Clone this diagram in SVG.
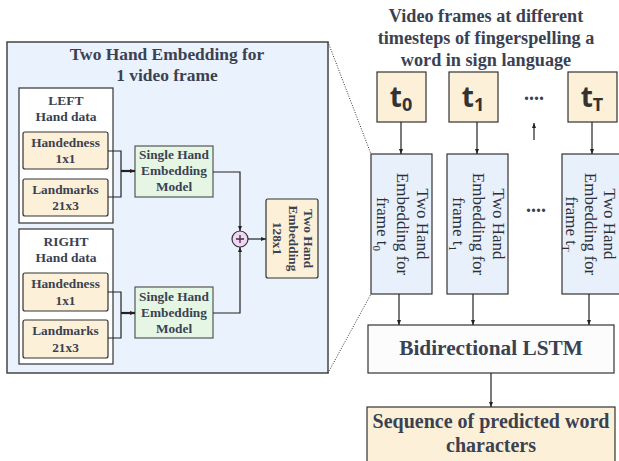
<svg xmlns="http://www.w3.org/2000/svg" width="619" height="461" viewBox="0 0 619 461">
<defs>
<marker id="ah" viewBox="0 0 10 10" refX="10" refY="5" markerWidth="5" markerHeight="5" orient="auto" markerUnits="userSpaceOnUse"><path d="M0,1 L10,5 L0,9 z" fill="#222"/></marker>
<style>
.t{font-family:"Liberation Serif","Times New Roman",serif;font-weight:bold;fill:#3a4252;text-anchor:middle}
.r{font-family:"Liberation Serif","Times New Roman",serif;fill:#2a2f38;text-anchor:middle;font-size:17px}
.s{font-family:"Open Sans","Noto Sans",sans-serif;font-weight:bold;fill:#333;text-anchor:middle;font-size:28px}
.cream{fill:#fdf0d8;stroke:#333;stroke-width:1.2}
.green{fill:#e5f7e4;stroke:#555;stroke-width:1.2}
.blue{fill:#e8f0fc;stroke:#333;stroke-width:1.2}
.ln{fill:none;stroke:#222;stroke-width:1.2}
.dot{fill:none;stroke:#333;stroke-width:1;stroke-dasharray:1 1.5}
</style>
</defs>
<g id="panel">
<rect x="7" y="42" width="321" height="331" fill="#eaf2fd" stroke="#444" stroke-width="1.5"/>
<text class="t" x="167" y="60" font-size="17.4">Two Hand Embedding for</text>
<text class="t" x="167" y="81" font-size="17.4">1 video frame</text>
</g>
<g id="left-hand">
<rect x="19" y="88" width="94" height="135" fill="#fff" stroke="#333" stroke-width="1.2"/>
<text class="t" x="66" y="105" font-size="13.5">LEFT</text>
<text class="t" x="66" y="121" font-size="13.5">Hand data</text>
</g>
<g id="left-handedness">
<rect class="cream" x="23" y="132" width="85" height="37" rx="2"/>
<text class="t" x="65.5" y="147" font-size="13.3">Handedness</text>
<text class="t" x="65.5" y="163" font-size="13.3">1x1</text>
</g>
<g id="left-landmarks">
<rect class="cream" x="23" y="179" width="85" height="37" rx="2"/>
<text class="t" x="65.5" y="194" font-size="13.3">Landmarks</text>
<text class="t" x="65.5" y="210" font-size="13.3">21x3</text>
</g>
<g id="left-model">
<rect class="green" x="135" y="146" width="78" height="51"/>
<text class="t" x="174" y="159" font-size="13.3">Single Hand</text>
<text class="t" x="174" y="175" font-size="13.3">Embedding</text>
<text class="t" x="174" y="191" font-size="13.3">Model</text>
</g>
<g id="right-hand">
<rect x="19" y="229" width="94" height="135" fill="#fff" stroke="#333" stroke-width="1.2"/>
<text class="t" x="66" y="246" font-size="13.5">RIGHT</text>
<text class="t" x="66" y="262" font-size="13.5">Hand data</text>
</g>
<g id="right-handedness">
<rect class="cream" x="23" y="273" width="85" height="38" rx="2"/>
<text class="t" x="65.5" y="288" font-size="13.3">Handedness</text>
<text class="t" x="65.5" y="305" font-size="13.3">1x1</text>
</g>
<g id="right-landmarks">
<rect class="cream" x="23" y="320" width="85" height="38" rx="2"/>
<text class="t" x="65.5" y="335" font-size="13.3">Landmarks</text>
<text class="t" x="65.5" y="352" font-size="13.3">21x3</text>
</g>
<g id="right-model">
<rect class="green" x="135" y="287" width="78" height="51"/>
<text class="t" x="174" y="301" font-size="13.3">Single Hand</text>
<text class="t" x="174" y="317" font-size="13.3">Embedding</text>
<text class="t" x="174" y="333" font-size="13.3">Model</text>
</g>
<g id="plus">
<circle cx="240" cy="239" r="8" fill="#f2d5f6" stroke="#333" stroke-width="1.2"/>
<path d="M236,239 H244 M240,235 V243" stroke="#333" stroke-width="1.3"/>
</g>
<g id="two-hand-out">
<rect class="cream" x="266" y="199" width="52" height="79" rx="2"/>
<g transform="translate(292,238.5) rotate(90)">
<text class="t" x="0" y="-11.5" font-size="13.3">Two Hand</text>
<text class="t" x="0" y="3.5" font-size="13.3">Embedding</text>
<text class="t" x="0" y="19.5" font-size="13.3">128x1</text>
</g>
</g>
<g id="video-title">
<text class="t" x="486" y="22" font-size="18.2">Video frames at different</text>
<text class="t" x="486" y="44" font-size="18.2">timesteps of fingerspelling a</text>
<text class="t" x="486" y="66" font-size="18.2">word in sign language</text>
</g>
<g id="t0">
<rect class="cream" x="377" y="72" width="49" height="50"/>
<text class="s" x="401" y="107">t<tspan font-size="18" dy="4">0</tspan></text>
</g>
<g id="t1">
<rect class="cream" x="449" y="72" width="49" height="50"/>
<text class="s" x="473" y="107">t<tspan font-size="18" dy="4">1</tspan></text>
</g>
<g id="tT">
<rect class="cream" x="568" y="72" width="49" height="50"/>
<text class="s" x="592" y="107">t<tspan font-size="18" dy="4">T</tspan></text>
</g>
<g id="dots-top"><text class="t" x="534" y="100" font-size="20" fill="#333">....</text></g>
<g id="frame0">
<rect class="blue" x="371" y="154" width="61" height="140"/>
<g transform="translate(401.5,224) rotate(90)">
<text class="r" x="0" y="-15">Two Hand</text>
<text class="r" x="0" y="5">Embedding for</text>
<text class="r" x="0" y="25">frame t<tspan font-size="11" dy="4">0</tspan></text>
</g>
</g>
<g id="frame1">
<rect class="blue" x="447" y="154" width="61" height="140"/>
<g transform="translate(477.5,224) rotate(90)">
<text class="r" x="0" y="-15">Two Hand</text>
<text class="r" x="0" y="5">Embedding for</text>
<text class="r" x="0" y="25">frame t<tspan font-size="11" dy="4">1</tspan></text>
</g>
</g>
<g id="frameT">
<rect class="blue" x="562" y="154" width="61" height="140"/>
<g transform="translate(590,224) rotate(90)">
<text class="r" x="0" y="-14">Two Hand</text>
<text class="r" x="0" y="5">Embedding for</text>
<text class="r" x="0" y="24">frame t<tspan font-size="11" dy="4">T</tspan></text>
</g>
</g>
<g id="dots-mid"><text class="t" x="536" y="212" font-size="20" fill="#333">....</text></g>
<g id="lstm">
<rect x="368" y="325" width="246" height="48" fill="#fbfcfb" stroke="#333" stroke-width="1.2"/>
<text class="t" x="491" y="355" font-size="21.3">Bidirectional LSTM</text>
</g>
<g id="sequence">
<rect class="cream" x="367" y="407" width="248" height="60"/>
<text class="t" x="491" y="428" font-size="20">Sequence of predicted word</text>
<text class="t" x="491" y="452" font-size="20">characters</text>
</g>
<g id="connectors">
<path class="ln" d="M108,151 H121 V197 H108"/>
<path d="M121,171 H135" stroke="#222" stroke-width="2.2" marker-end="url(#ah)"/>
<path class="ln" d="M108,292 H121 V338 H108"/>
<path d="M121,313 H135" stroke="#222" stroke-width="2.2" marker-end="url(#ah)"/>
<path class="ln" d="M213,172 H240 V231" marker-end="url(#ah)"/>
<path class="ln" d="M213,313 H240 V247" marker-end="url(#ah)"/>
<path class="ln" d="M248,239 H266" marker-end="url(#ah)"/>
<path class="ln" d="M401,122 V154" marker-end="url(#ah)"/>
<path class="ln" d="M477,122 V154" marker-end="url(#ah)"/>
<path class="ln" d="M592,122 V154" marker-end="url(#ah)"/>
<path class="ln" d="M534,140 V123" marker-end="url(#ah)"/>
<path class="ln" d="M399,294 V325" marker-end="url(#ah)"/>
<path class="ln" d="M473,294 V325" marker-end="url(#ah)"/>
<path class="ln" d="M589,294 V325" marker-end="url(#ah)"/>
<path class="ln" d="M491,373 V407" marker-end="url(#ah)"/>
<path class="dot" d="M328,42 L371,154"/>
<path class="dot" d="M328,373 L371,294"/>
</g>
</svg>
